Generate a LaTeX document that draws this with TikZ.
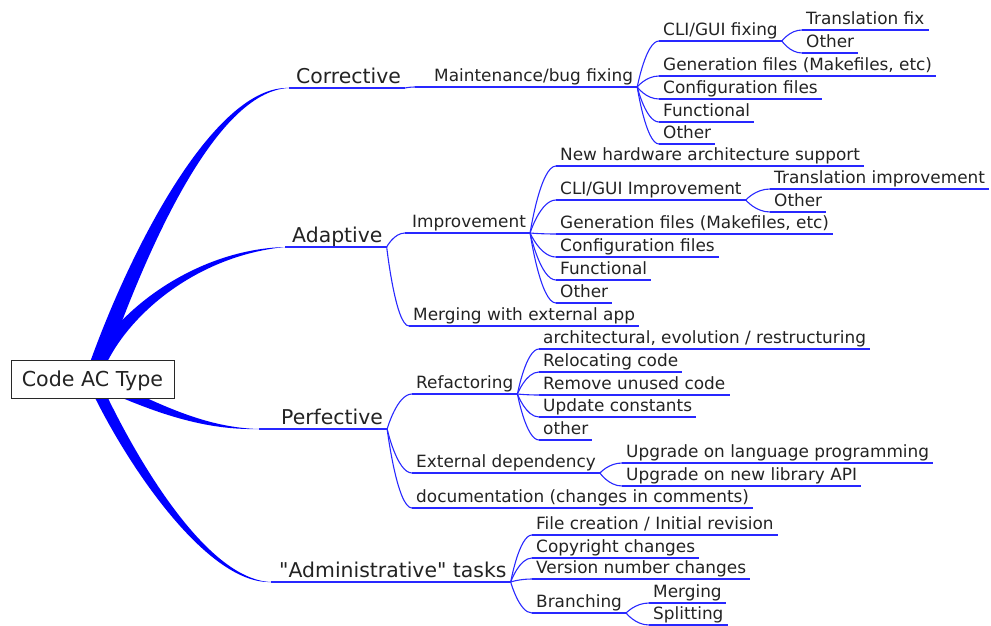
\documentclass[tikz,border=0pt]{standalone}
\usepackage{fontspec}
\setmainfont{DejaVu Sans}[Ligatures=TeXOff]
\usetikzlibrary{calc,backgrounds}
\definecolor{edgeblue}{RGB}{0,0,255}
\definecolor{lineblue}{RGB}{40,40,255}
\definecolor{txt}{RGB}{35,35,35}
\definecolor{boxline}{RGB}{40,40,40}
% tapered root edge: #1 start, #2 ctrl1, #3 ctrl2, #4 end, #5 start offset, #6 ctrl2 offset
\newcommand\fatedge[6]{%
  \fill[edgeblue] ($(#1)+(#5)$) .. controls ($(#2)+(#5)$) and ($(#3)+(#6)$) .. (#4)
    .. controls ($(#3)-(#6)$) and ($(#2)-(#5)$) .. ($(#1)-(#5)$) -- cycle;}
\begin{document}
\begin{tikzpicture}[x=1pt,y=-1pt,
  lvl/.style={anchor=south west, inner ysep=0pt, text=txt},
  l1/.style={lvl, font=\fontsize{20.4}{24}\selectfont, inner xsep=4pt, text height=15pt, text depth=4.4pt},
  l2/.style={lvl, font=\fontsize{16.9}{20}\selectfont, inner xsep=4pt, text height=13pt, text depth=5pt},
  lp/.style={execute at begin node={\hspace*{#1}}},
  ln/.style={draw=lineblue, line width=1.1pt},
  br/.style={ln, to path={.. controls (\tikztostart) and ($(\tikztotarget -| \tikztostart)!0.4!(\tikztotarget)$) .. (\tikztotarget)}},
  rootbox/.style={draw=boxline, line width=1pt, fill=white, text=txt, font=\fontsize{20.6}{24}\selectfont,
    inner xsep=8pt, inner ysep=0pt, minimum height=38pt, minimum width=163pt, text height=15pt, text depth=0pt}
]
\useasboundingbox (0,0) rectangle (991,626);

% root
\node[rootbox] (root) at (92.5,379) {Code AC Type};

% level 1
\node[l1, lp=3pt]  (cor) at (289,88)  {Corrective};
\node[l1, lp=3pt]  (ada) at (285,247) {Adaptive};
\node[l1, lp=18pt] (per) at (259,429) {Perfective};
\node[l1, lp=4pt]  (adm) at (271,582) {"Administrative" tasks};

% Corrective branch
\node[l2, lp=15pt] (mnt)  at (415,87)  {Maintenance/bug fixing};
\node[l2] (cgf)  at (659,41)  {CLI/GUI fixing};
\node[l2] (trf)  at (802,30)  {Translation fix};
\node[l2] (ot1)  at (802,53)  {Other};
\node[l2] (gen1) at (659,76)  {Generation files (Makefiles, etc)};
\node[l2] (cfg1) at (659,99)  {Configuration files};
\node[l2] (fun1) at (659,122) {Functional};
\node[l2] (ot2)  at (659,144) {Other};

% Adaptive branch
\node[l2, lp=3pt] (imp) at (405,233) {Improvement};
\node[l2] (nha)  at (556,166) {New hardware architecture support};
\node[l2] (cgi)  at (556,200) {CLI/GUI Improvement};
\node[l2] (tri)  at (770,189) {Translation improvement};
\node[l2] (ot3)  at (770,212) {Other};
\node[l2] (gen2) at (556,234) {Generation files (Makefiles, etc)};
\node[l2] (cfg2) at (556,257) {Configuration files};
\node[l2] (fun2) at (556,280) {Functional};
\node[l2] (ot4)  at (556,303) {Other};
\node[l2] (mer)  at (409,326) {Merging with external app};

% Perfective branch
\node[l2] (ref) at (412,394) {Refactoring};
\node[l2] (arc) at (539,349) {architectural, evolution / restructuring};
\node[l2] (rel) at (539,372) {Relocating code};
\node[l2] (rem) at (539,395) {Remove unused code};
\node[l2] (upd) at (539,417) {Update constants};
\node[l2] (ot5) at (539,440) {other};
\node[l2] (ext) at (412,473) {External dependency};
\node[l2] (ulp) at (622,463) {Upgrade on language programming};
\node[l2] (unl) at (622,486) {Upgrade on new library API};
\node[l2] (doc) at (412,508) {documentation (changes in comments)};

% Administrative branch
\node[l2] (fil) at (532,535) {File creation / Initial revision};
\node[l2] (cop) at (532,558) {Copyright changes};
\node[l2] (ver) at (532,579) {Version number changes};
\node[l2] (bra) at (532,613) {Branching};
\node[l2] (mrg) at (649,603) {Merging};
\node[l2] (spl) at (649,625) {Splitting};

% underlines
\foreach \nd in {cor,ada,per,adm,mnt,cgf,trf,ot1,gen1,cfg1,fun1,ot2,imp,nha,cgi,tri,ot3,gen2,cfg2,fun2,ot4,mer,ref,arc,rel,rem,upd,ot5,ext,ulp,unl,doc,fil,cop,ver,bra,mrg,spl}
  {\draw[ln] (\nd.south west) -- (\nd.south east);}

% thin connectors
\draw[br] (cor.south east) to (mnt.south west);
\foreach \c in {cgf,gen1,cfg1,fun1,ot2} \draw[br] (mnt.south east) to (\c.south west);
\foreach \c in {trf,ot1} \draw[br] (cgf.south east) to (\c.south west);
\foreach \c in {imp,mer} \draw[br] (ada.south east) to (\c.south west);
\foreach \c in {nha,cgi,gen2,cfg2,fun2,ot4} \draw[br] (imp.south east) to (\c.south west);
\foreach \c in {tri,ot3} \draw[br] (cgi.south east) to (\c.south west);
\foreach \c in {ref,ext,doc} \draw[br] (per.south east) to (\c.south west);
\foreach \c in {arc,rel,rem,upd,ot5} \draw[br] (ref.south east) to (\c.south west);
\foreach \c in {ulp,unl} \draw[br] (ext.south east) to (\c.south west);
\foreach \c in {fil,cop,ver,bra} \draw[br] (adm.south east) to (\c.south west);
\foreach \c in {mrg,spl} \draw[br] (bra.south east) to (\c.south west);

% thick tapered edges from root (behind root box)
\begin{scope}[on background layer]
  \fatedge{root.center}{137,250}{215,88}{cor.south west}{-7.5,-2.5}{0,-3}
  \fatedge{root.center}{110,322}{190,253}{ada.south west}{-7,-2}{0,-3.5}
  \fatedge{root.center}{150,405}{200,429}{per.south west}{2.2,-5}{0,-1.5}
  \fatedge{root.center}{127,455}{205,582}{adm.south west}{-5.5,2}{0,2.5}
\end{scope}
\end{tikzpicture}
\end{document}
